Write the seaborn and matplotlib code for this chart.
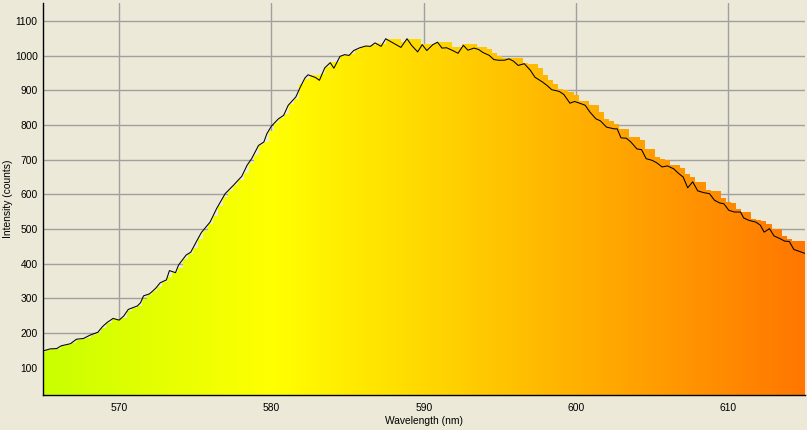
import numpy as np
import pandas as pd
import matplotlib
matplotlib.use("Agg")
import matplotlib.pyplot as plt
import seaborn as sns
from matplotlib.ticker import MultipleLocator

# ---------------- data ----------------
bar_wavelength = np.linspace(565, 615, 151)
bar_counts = [
    145, 150, 154, 155, 162, 166, 170, 181, 183, 186,
    195, 200, 214, 229, 239, 239, 244, 262, 272, 277,
    297, 310, 320, 334, 348, 362, 377, 388, 412, 428,
    444, 472, 495, 513, 538, 567, 592, 611, 626, 642,
    663, 690, 714, 742, 751, 782, 805, 819, 831, 860,
    876, 917, 933, 945, 945, 947, 968, 983, 983, 998,
    1003, 1004, 1017, 1024, 1028, 1030, 1037, 1035, 1049, 1049,
    1049, 1039, 1049, 1049, 1049, 1033, 1033, 1033, 1041, 1041,
    1041, 1024, 1024, 1033, 1033, 1033, 1024, 1024, 1018, 1007,
    999, 992, 992, 992, 992, 980, 977, 977, 965, 943,
    929, 919, 905, 900, 895, 886, 868, 868, 859, 857,
    839, 818, 813, 802, 789, 789, 765, 765, 756, 732,
    732, 708, 703, 698, 684, 684, 677, 660, 650, 637,
    637, 612, 609, 609, 589, 578, 575, 557, 549, 549,
    530, 525, 523, 515, 501, 501, 479, 470, 464, 464, 464,
]

line_wavelength = [
    565.0, 565.46, 565.9, 566.2, 566.8, 567.2, 567.65, 568.1, 568.6, 568.9,
    569.2, 569.6, 570.0, 570.3, 570.6, 571.2, 571.4, 571.6, 572.0, 572.4,
    572.7, 573.1, 573.3, 573.7, 573.9, 574.4, 574.7, 575.1, 575.4, 575.97,
    576.4, 576.96, 577.5, 578.05, 578.4, 578.7, 579.15, 579.5, 579.7, 580.0,
    580.46, 580.8, 581.1, 581.6, 581.9, 582.2, 582.4, 582.9, 583.15, 583.5,
    583.86, 584.1, 584.5, 584.8, 585.1, 585.4, 585.8, 586.2, 586.5, 586.8,
    587.2, 587.5, 587.9, 588.5, 588.9, 589.2, 589.6, 589.9, 590.2, 590.6,
    590.9, 591.2, 591.5, 591.9, 592.25, 592.6, 592.9, 593.3, 593.6, 593.9,
    594.3, 594.6, 594.9, 595.3, 595.6, 595.9, 596.2, 596.6, 597.0, 597.3,
    597.8, 598.1, 598.4, 598.9, 599.2, 599.6, 599.9, 600.3, 600.6, 600.9,
    601.3, 601.6, 602.0, 602.5, 602.7, 602.95, 603.3, 603.6, 604.0, 604.3,
    604.6, 605.0, 605.3, 605.65, 606.0, 606.4, 606.74, 607.03, 607.33, 607.66,
    607.99, 608.38, 608.76, 609.09, 609.44, 609.7, 610.03, 610.4, 610.8, 611.0,
    611.35, 611.8, 612.1, 612.35, 612.7, 613.0, 613.4, 613.7, 614.0, 614.3,
    614.74, 615.07,
]
line_counts = [
    148, 154, 155, 163, 169, 182, 184, 194, 202, 218,
    230, 242, 237, 249, 268, 278, 287, 307, 313, 329,
    345, 353, 380, 374, 396, 425, 433, 466, 490, 520,
    559, 602, 626, 652, 684, 703, 741, 751, 775, 797,
    818, 828, 857, 881, 910, 936, 945, 937, 929, 965,
    980, 964, 998, 1003, 1001, 1015, 1023, 1028, 1027, 1037,
    1027, 1049, 1039, 1024, 1049, 1030, 1011, 1032, 1015, 1032,
    1039, 1022, 1023, 1015, 1007, 1030, 1016, 1022, 1018, 1009,
    1001, 989, 987, 987, 991, 984, 972, 977, 958, 938,
    924, 914, 902, 897, 888, 863, 868, 862, 857, 838,
    818, 812, 794, 789, 789, 763, 762, 751, 731, 729,
    703, 698, 691, 679, 682, 674, 660, 650, 619, 636,
    610, 605, 602, 583, 575, 573, 554, 549, 549, 532,
    525, 520, 511, 491, 501, 480, 472, 465, 464, 441,
    434, 429,
]

x_ticks = [570, 580, 590, 600, 610]
y_ticks = [100, 200, 300, 400, 500, 600, 700, 800, 900, 1000, 1100]
x_label = "Wavelength (nm)"
y_label = "Intensity (counts)"


def wavelength_rgb(wl):
    """Approximate visible colour of a wavelength (nm)."""
    if wl < 580:
        return ((wl - 510) / 70.0, 1.0, 0.0)
    return (1.0, max(0.0, (645 - wl) / 65.0), 0.0)


# ---------------- style ----------------
sns.set_style("white")
plt.rcParams['font.family'] = ['Liberation Sans', 'DejaVu Sans']

BG = "#ECE9D8"
GRID = "#A0A0A0"
W, H = 807, 430
FS = 7.4

fig = plt.figure(figsize=(W / 100, H / 100), dpi=100, facecolor=BG)
ax = fig.add_axes([43 / W, 1 - 395 / H, (804.5 - 43) / W, (395 - 2.7) / H])
ax.set_facecolor(BG)

# bars (stored spectrum fill)
bars_df = pd.DataFrame({"wavelength": bar_wavelength, "counts": bar_counts})
half = (bar_wavelength[1] - bar_wavelength[0]) / 2
edges = list(np.append(bar_wavelength - half, bar_wavelength[-1] + half))
sns.histplot(data=bars_df, x="wavelength", weights="counts", bins=edges,
             element="bars", fill=True, linewidth=0, alpha=1, ax=ax)
for p in ax.patches:
    c = p.get_x() + p.get_width() / 2
    p.set_facecolor(wavelength_rgb(c))
    p.set_edgecolor("none")
    p.set_antialiased(False)
    p.set_alpha(1)
    p.set_zorder(2)

# live spectrum line
line_df = pd.DataFrame({"wavelength": line_wavelength, "counts": line_counts})
sns.lineplot(data=line_df, x="wavelength", y="counts", color="black",
             linewidth=0.75, ax=ax, zorder=3)

ax.set_xlim(565, 615)
ax.set_ylim(21, 1153)

ax.set_xticks(x_ticks)
ax.set_yticks(y_ticks)
ax.xaxis.set_minor_locator(MultipleLocator(5))
ax.yaxis.set_minor_locator(MultipleLocator(50))

ax.grid(True, which="major", color=GRID, linewidth=1.0, zorder=0)
ax.set_axisbelow(True)

for s in ("top", "right"):
    ax.spines[s].set_visible(False)
for s in ("left", "bottom"):
    ax.spines[s].set_color("black")
    ax.spines[s].set_linewidth(1.0)

ax.tick_params(which="major", direction="out", length=3, width=1, color="black",
               labelsize=FS, pad=0.8, labelcolor="black")
ax.tick_params(which="minor", direction="inout", length=5, width=1, color="black")
ax.tick_params(axis="x", which="major", length=3, pad=3)
ax.tick_params(axis="x", which="minor", length=3, direction="out")

ax.set_xlabel(x_label, fontsize=FS, labelpad=2, color="black")
ax.set_ylabel(y_label, fontsize=FS, labelpad=1, color="black")

fig.savefig("out.png", dpi=100, facecolor=BG)
